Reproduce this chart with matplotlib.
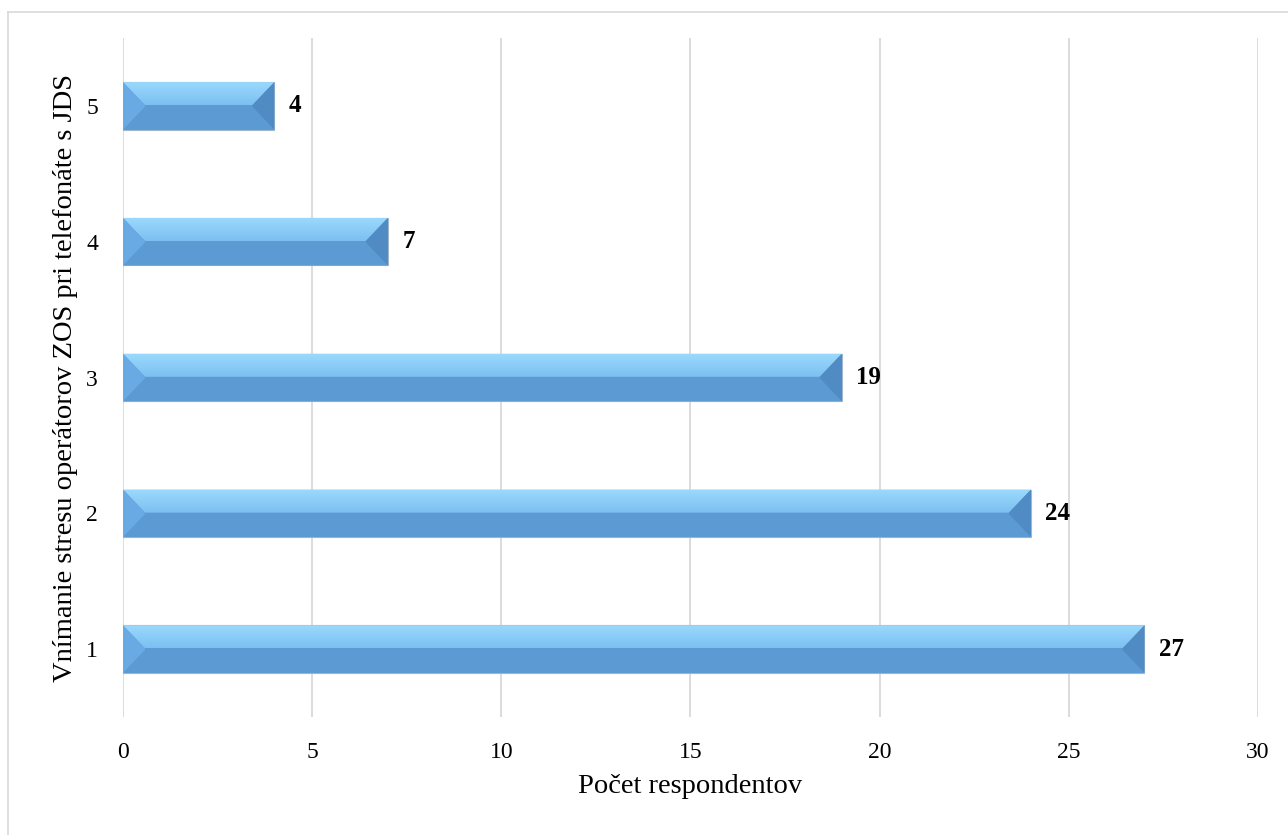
import numpy as np
import matplotlib
matplotlib.use("Agg")
import matplotlib.pyplot as plt
from matplotlib.patches import Polygon
from matplotlib.lines import Line2D

# survey answers: stress level (1-5) and number of respondents
levels = [1, 2, 3, 4, 5]
counts = [27, 24, 19, 7, 4]
xticks = [0, 5, 10, 15, 20, 25, 30]

plt.rcParams['font.family'] = ['Liberation Serif', 'DejaVu Serif']

fig = plt.figure(figsize=(12.88, 8.35), dpi=100)
ax = fig.add_axes([0.0955, 0.1413, 0.8812, 0.8132])

# thin frame around the chart area
fig.add_artist(Line2D([8 / 1288, 8 / 1288], [0, 1 - 12 / 835], color='#d9d9d9', lw=1.2))
fig.add_artist(Line2D([8 / 1288, 1], [1 - 12 / 835, 1 - 12 / 835], color='#d9d9d9', lw=1.2))

bar_h = 0.35
bars = ax.barh(levels, counts, height=bar_h, color='#5b9bd5',
               edgecolor='#9fb6cc', linewidth=0.8, zorder=2)

ax.set_xlim(0, 30)
ax.set_ylim(0.5, 5.5)

# bevel size, converted from pixels to data units
px_x = 30 / (0.8812 * 1288)
dx = 22 * px_x
dy = bar_h / 2 * 0.97

c_top = np.array([0x9b, 0xda, 0xfd]) / 255
c_mid = np.array([0x7c, 0xc0, 0xf2]) / 255
grad = np.linspace(0, 1, 64)[:, None, None]
img = c_mid * (1 - grad) + c_top * grad

for y, v in zip(levels, counts):
    x0, x1 = 0, v
    yt, yb = y + bar_h / 2, y - bar_h / 2
    # upper facet with gradient
    top = Polygon([(x0, yt), (x1, yt), (x1 - dx, yt - dy), (x0 + dx, yt - dy)],
                  closed=True, facecolor='none', edgecolor='none', zorder=3)
    ax.add_patch(top)
    im = ax.imshow(img, extent=(x0, x1, yt - dy, yt), origin='lower',
                   aspect='auto', zorder=3, interpolation='bilinear')
    im.set_clip_path(top)
    # lower facet
    ax.add_patch(Polygon([(x0, yb), (x1, yb), (x1 - dx, yb + dy), (x0 + dx, yb + dy)],
                         closed=True, facecolor='#5b9ad3', edgecolor='none', zorder=3))
    # left and right facets
    ax.add_patch(Polygon([(x0, yt), (x0 + dx, yt - dy), (x0 + dx, yb + dy), (x0, yb)],
                         closed=True, facecolor='#69aae4', edgecolor='none', zorder=3))
    ax.add_patch(Polygon([(x1, yt), (x1 - dx, yt - dy), (x1 - dx, yb + dy), (x1, yb)],
                         closed=True, facecolor='#508bc4', edgecolor='none', zorder=3))
    ax.text(v + 0.38, y, str(v), va='center', ha='left', fontsize=18,
            fontweight='bold', color='black', zorder=4)

ax.set_xticks(xticks)
ax.set_yticks(levels)
ax.grid(axis='x', color='#d9d9d9', linewidth=1.3, zorder=0)
ax.set_axisbelow(True)
for s in ax.spines.values():
    s.set_visible(False)
ax.tick_params(axis='both', length=0, labelsize=17)
ax.tick_params(axis='x', pad=18)
ax.tick_params(axis='y', pad=18)

ax.set_xlabel('Počet respondentov', fontsize=20.5, labelpad=8)
ax.set_ylabel('Vnímanie stresu operátorov ZOS pri telefonáte s JDS', fontsize=20.5, labelpad=6)

fig.savefig('out.png', dpi=100)
